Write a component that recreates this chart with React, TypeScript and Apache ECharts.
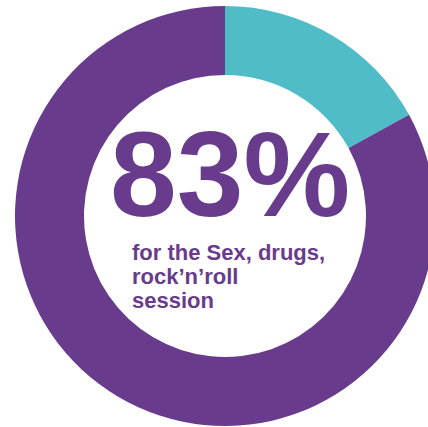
import React, { useEffect, useRef } from "react";
import * as echarts from "echarts";

const categories = ["Other sessions", "Sex, drugs, rock’n’roll session"];
const values = [17, 83];
const colors = ["#4fbcc7", "#693b8c"];
const headline = "83%";
const subLines = ["for the Sex, drugs,", "rock’n’roll", "session"];

export default function App() {
  const ref = useRef<HTMLDivElement>(null);
  useEffect(() => {
    document.body.style.margin = "0";
    const chart = echarts.init(ref.current!, undefined, { renderer: "svg" });
    chart.setOption({
      animation: false,
      backgroundColor: "#ffffff",
      series: [
        {
          type: "pie",
          center: [225, 216],
          radius: [141, 210],
          startAngle: 90,
          clockwise: true,
          silent: true,
          label: { show: false },
          labelLine: { show: false },
          itemStyle: { borderWidth: 0 },
          data: categories.map((c, i) => ({
            name: c,
            value: values[i],
            itemStyle: { color: colors[i] },
          })),
        },
      ],
      graphic: [
        {
          type: "text",
          left: 110,
          top: 114,
          style: {
            text: headline,
            font: "bold 120px 'Liberation Sans', Arial, sans-serif",
            fill: "#693b8c",
          },
        },
        ...subLines.map((t, i) => ({
          type: "text",
          left: 132,
          top: 241 + i * 24,
          style: {
            text: t,
            font: "bold 22px 'Liberation Sans', Arial, sans-serif",
            fill: "#693b8c",
          },
        })),
      ],
    });
    return () => chart.dispose();
  }, []);
  return <div ref={ref} style={{ width: 428, height: 427 }} />;
}
